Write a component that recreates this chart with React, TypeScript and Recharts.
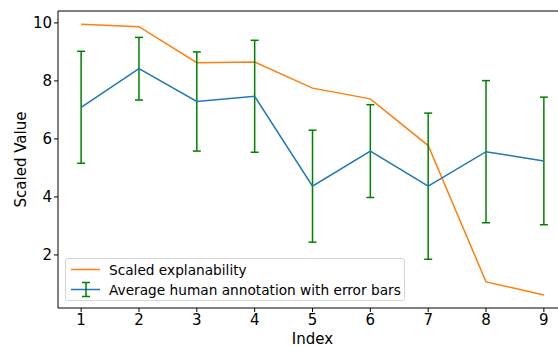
import React from 'react';
import {
  LineChart,
  Line,
  XAxis,
  YAxis,
  ErrorBar,
  Legend,
  ReferenceLine
} from 'recharts';

const indices = [1, 2, 3, 4, 5, 6, 7, 8, 9];
const scaledExplainability = [9.95, 9.87, 8.63, 8.65, 7.75, 7.38, 5.77, 1.07, 0.62];
const avgAnnotation = [7.09, 8.42, 7.29, 7.47, 4.37, 5.58, 4.37, 5.56, 5.24];
const annotationError = [1.93, 1.08, 1.71, 1.93, 1.93, 1.6, 2.52, 2.45, 2.2];
const xTicks = [1, 2, 3, 4, 5, 6, 7, 8, 9];
const yTicks = [2, 4, 6, 8, 10];

const data = indices.map((idx, i) => ({
  idx,
  expl: scaledExplainability[i],
  avg: avgAnnotation[i],
  err: annotationError[i]
}));

const FONT = 'DejaVu Sans, sans-serif';
const Y_MAX = 10.41;

const LegendBox = () => (
  <div
    style={{
      width: 340,
      height: 43,
      boxSizing: 'border-box',
      border: '1px solid #d5d5d5',
      borderRadius: 3,
      background: 'rgba(255,255,255,0.8)',
      fontFamily: FONT,
      fontSize: 13.7,
      color: '#000',
      position: 'relative'
    }}
  >
    <svg width={340} height={43} style={{ position: 'absolute', left: 0, top: 0 }}>
      <line x1={5} x2={34} y1={10.5} y2={10.5} stroke="#ff7f0e" strokeWidth={1.5} />
      <line x1={5} x2={34} y1={30.5} y2={30.5} stroke="#1f77b4" strokeWidth={1.5} />
      <line x1={20} x2={20} y1={23.5} y2={37.5} stroke="green" strokeWidth={1.5} />
      <line x1={16} x2={24} y1={23.5} y2={23.5} stroke="green" strokeWidth={1.5} />
      <line x1={16} x2={24} y1={37.5} y2={37.5} stroke="green" strokeWidth={1.5} />
      <text x={43} y={15.5} fontFamily={FONT} fontSize={13.7}>Scaled explanability</text>
      <text x={43} y={35.5} fontFamily={FONT} fontSize={13.7}>Average human annotation with error bars</text>
    </svg>
  </div>
);

const App: React.FC = () => {
  return (
    <div
      style={{
        position: 'absolute',
        left: 0,
        top: 0,
        width: 558,
        height: 347,
        overflow: 'hidden',
        background: '#fff'
      }}
    >
      <LineChart
        width={580}
        height={347}
        data={data}
        margin={{ top: 11, right: 13, left: 0, bottom: 0 }}
      >
        <XAxis
          dataKey="idx"
          type="number"
          domain={[0.6, 9.4]}
          ticks={xTicks}
          allowDataOverflow
          height={39}
          tickSize={4}
          tickLine={{ stroke: '#000' }}
          axisLine={{ stroke: '#000', strokeWidth: 1 }}
          tick={{ fill: '#000', fontFamily: FONT, fontSize: 15 }}
          label={{
            value: 'Index',
            position: 'center',
            dy: 11,
            fill: '#000',
            fontFamily: FONT,
            fontSize: 15
          }}
        />
        <YAxis
          type="number"
          domain={[0.17, Y_MAX]}
          ticks={yTicks}
          allowDataOverflow
          width={58}
          tickSize={4}
          tickLine={{ stroke: '#000' }}
          axisLine={{ stroke: '#000', strokeWidth: 1 }}
          tick={{ fill: '#000', fontFamily: FONT, fontSize: 15 }}
          label={{
            value: 'Scaled Value',
            position: 'center',
            angle: -90,
            dx: -8,
            fill: '#000',
            fontFamily: FONT,
            fontSize: 15
          }}
        />
        <ReferenceLine y={Y_MAX} stroke="#555" strokeWidth={1.5} ifOverflow="extendDomain" />
        <Line
          dataKey="expl"
          stroke="#ff7f0e"
          strokeWidth={1.5}
          dot={false}
          activeDot={false}
          isAnimationActive={false}
        />
        <Line
          dataKey="avg"
          stroke="#1f77b4"
          strokeWidth={1.5}
          dot={false}
          activeDot={false}
          isAnimationActive={false}
        >
          <ErrorBar
            dataKey="err"
            direction="y"
            width={4}
            stroke="green"
            strokeWidth={1.5}
            isAnimationActive={false}
          />
        </Line>
        <Legend
          layout="horizontal"
          verticalAlign="middle"
          align="center"
          wrapperStyle={{ left: 65, top: 258, width: 340, height: 43 }}
          content={() => <LegendBox />}
        />
      </LineChart>
    </div>
  );
};

export default App;
